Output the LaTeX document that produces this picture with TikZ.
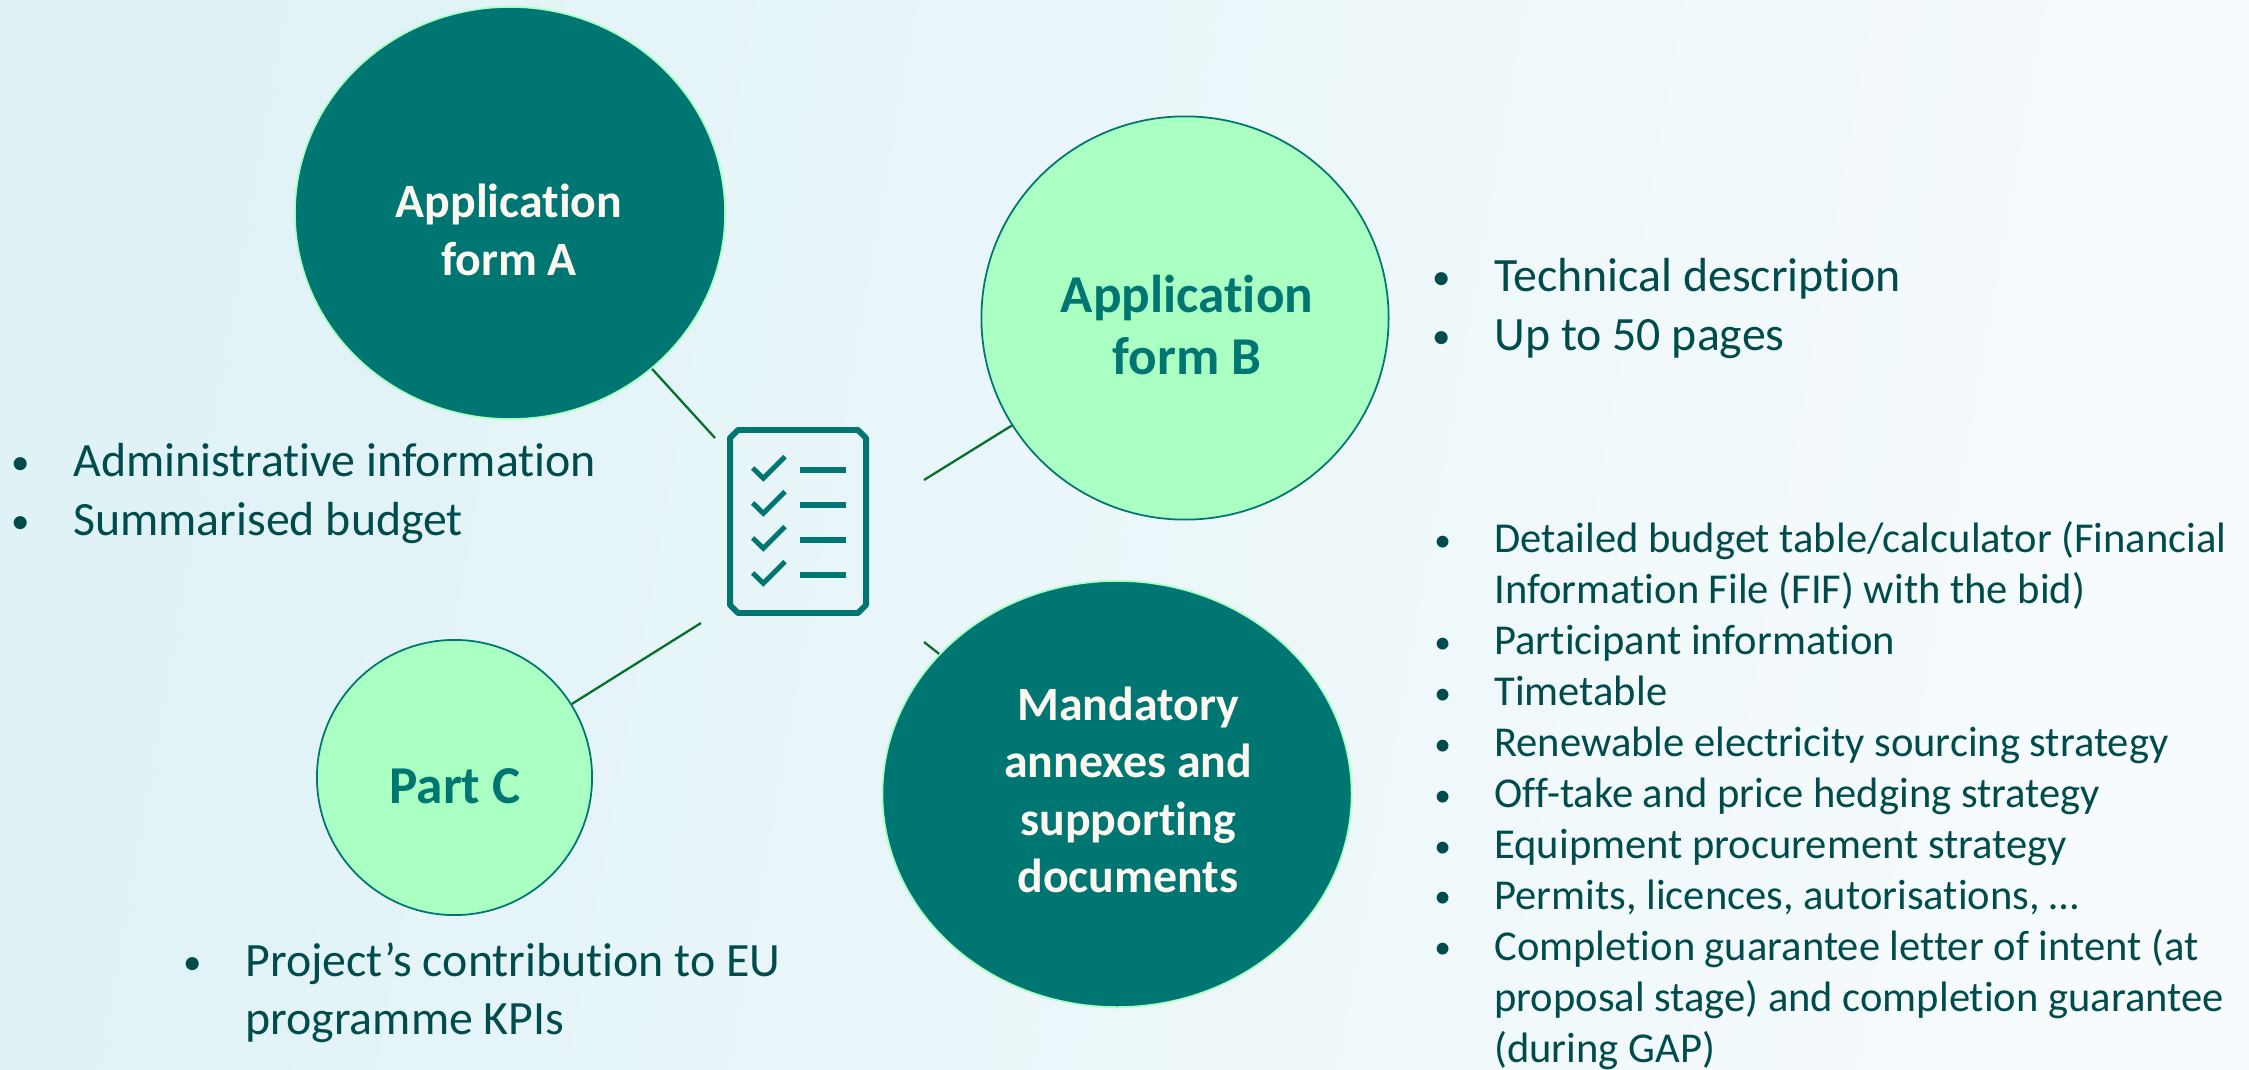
\documentclass[tikz,border=0pt]{standalone}
\usepackage{fontspec}
\setmainfont[Ligatures=NoCommon]{Carlito}
\usetikzlibrary{positioning,shapes.geometric}
\definecolor{tealDark}{HTML}{007672}
\definecolor{mint}{HTML}{AAFFC3}
\definecolor{inkDark}{HTML}{004B4B}
\definecolor{linkGreen}{HTML}{04702C}
\definecolor{cream}{HTML}{FFF8F0}
\definecolor{bgLeft}{HTML}{DFF2F6}
\definecolor{bgMid}{HTML}{EDF7F9}
\definecolor{bgRight}{HTML}{F7FBFD}
\newcommand{\bulA}{\makebox[16.7pt][l]{\kern-1pt\fontsize{10.5}{10.5}\selectfont\raisebox{0.6pt}{\textbullet}}}
\newcommand{\bulB}{\makebox[14.7pt][l]{\kern-2.4pt\fontsize{9.5}{9.5}\selectfont\raisebox{0.5pt}{\textbullet}}}
\tikzset{
    darkblob/.style={ellipse, fill=tealDark, draw=mint, line width=0.5pt, inner sep=0pt},
    lightblob/.style={ellipse, fill=mint, draw=tealDark, line width=0.5pt, inner sep=0pt},
    titlewhite/.style={align=center, text=cream, font=\bfseries\fontsize{13.6}{16.3}\selectfont},
    titleteal/.style={align=center, text=tealDark, font=\bfseries\fontsize{15.15}{17.5}\selectfont},
    biglist/.style={anchor=north west, align=left, inner sep=0pt, text=inkDark, font=\fontsize{13.6}{16.6}\selectfont},
    smalllist/.style={anchor=north west, align=left, inner sep=0pt, text=inkDark, font=\fontsize{12.1}{14.5}\selectfont},
    link/.style={draw=linkGreen, line width=0.65pt},
    iconline/.style={draw=tealDark, line width=1.7pt},
    iconcheck/.style={draw=tealDark, line width=1.4pt}
}
\begin{document}
\begin{tikzpicture}[x=0.01cm, y=-0.01cm]
                    \useasboundingbox (0,0) rectangle (2249,1070);
                    \shade[left color=bgLeft, middle color=bgMid, right color=bgRight, shading angle=80] (0,0) rectangle (2249,1070);
                    \node (formA) at (510,213) [darkblob, minimum width=4.3cm, minimum height=4.12cm] {};
                    \node (formB) at (1185,318) [lightblob, minimum width=4.07cm, minimum height=4.03cm] {};
                    \node (partC) at (454.5,777.5) [lightblob, minimum width=2.75cm, minimum height=2.75cm] {};
                    \node (annex) at (1117,794) [darkblob, minimum width=4.69cm, minimum height=4.26cm] {};
                    \node (titleA) at (509,230) [titlewhite] {Application\\form A};
                    \node (titleB) at (1187,325) [titleteal] {Application\\form B};
                    \node (titleC) at (455,786) [titleteal] {Part C};
                    \node (titleM) at (1128,790) [titlewhite] {Mandatory\\annexes and\\supporting\\documents};
                    \node (listA) at (14,443) [biglist] {\bulA Administrative information\\\bulA Summarised budget};
                    \node (listB) at (1435,258) [biglist] {\bulA Technical description\\\bulA Up to 50 pages};
                    \node (listC) at (186,942) [biglist] {\bulA Project’s contribution to EU\\\hspace{16.7pt}programme KPIs};
                    \node (listM) at (1442,521) [smalllist] {%
                           \bulB Detailed budget table/calculator (Financial\\
                           \hspace{14.7pt}Information File (FIF) with the bid)\\
                           \bulB Participant information\\
                           \bulB Timetable\\
                           \bulB Renewable electricity sourcing strategy\\
                           \bulB Off-take and price hedging strategy\\
                           \bulB Equipment procurement strategy\\
                           \bulB Permits, licences, autorisations, …\\
                           \bulB Completion guarantee letter of intent (at\\
                           \hspace{14.7pt}proposal stage) and completion guarantee\\
                           \hspace{14.7pt}(during GAP)
                    };
                    \draw[iconline, line join=round] (730,438) -- (738,430) -- (858,430) -- (866,438) -- (866,605) -- (858,613) -- (738,613) -- (730,605) -- cycle;
                    \coordinate (endA) at (715,438);
                    \coordinate (endB) at (924,480);
                    \coordinate (endC) at (701,623);
                    \coordinate (endM) at (924,642);
                    \foreach \Source/\Target in {%
                        endA/formA,
                        endB/formB,
                        endC/partC,
                        endM/annex%
                        }
                        \draw[link] (\Source) to (\Target);
                    \foreach \Row in {0,35,70,105} {
                        \draw[iconcheck] (752.7,468+\Row) -- (763.3,478.3+\Row) -- (785,456.7+\Row);
                        \draw[iconline] (800.3,470+\Row) -- (845.7,470+\Row);
                    }
                \end{tikzpicture}
\end{document}
